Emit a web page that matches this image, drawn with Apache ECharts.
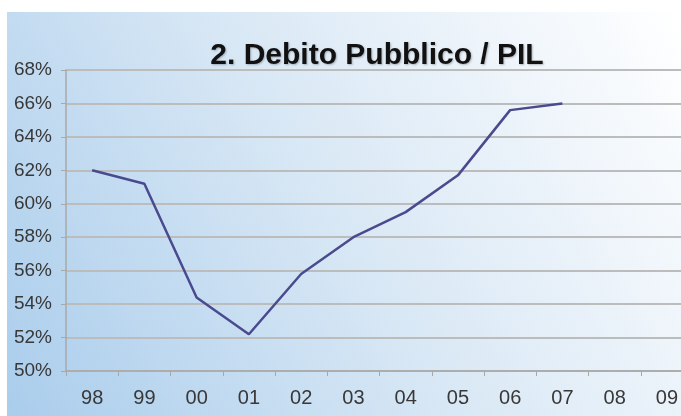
<!DOCTYPE html>
<html>
<head>
<meta charset="utf-8">
<script src="https://cdn.jsdelivr.net/npm/echarts@6/dist/echarts.min.js"></script>
<style>
html,body{margin:0;padding:0;background:#ffffff;}
#c{width:681px;height:416px;}
</style>
</head>
<body>
<div id="c"></div>
<script>
var titleText = '2. Debito Pubblico / PIL';
var categories = ['98','99','00','01','02','03','04','05','06','07','08','09'];
var debtRatio = [62.0, 61.2, 54.4, 52.2, 55.8, 58.0, 59.5, 61.7, 65.6, 66.0, null, null];
var yMin = 50, yMax = 68, yStep = 2;

var chart = echarts.init(document.getElementById('c'));
chart.setOption({
  animation: false,
  backgroundColor: '#ffffff',
  graphic: [{
    type: 'rect', left: 7, top: 12, z: -100, silent: true,
    shape: { width: 674, height: 404 },
    style: {
      fill: new echarts.graphic.LinearGradient(0, 1, 1, 0, [
        { offset: 0, color: '#aacdec' },
        { offset: 0.5, color: '#d9e8f5' },
        { offset: 1, color: '#ffffff' }
      ])
    }
  }],
  title: {
    text: titleText,
    left: 372, top: 36, textAlign: 'center',
    textStyle: {
      fontFamily: 'Liberation Sans, Arial, sans-serif',
      fontSize: 30, fontWeight: 'bold', color: '#111111',
      textShadowColor: 'rgba(0,0,0,0.25)', textShadowBlur: 2, textShadowOffsetX: 1, textShadowOffsetY: 1
    }
  },
  grid: { left: 66, width: 627, top: 70, bottom: 45, outerBoundsMode: 'none', containLabel: false },
  xAxis: {
    type: 'category', data: categories, boundaryGap: true,
    axisLine: { show: true, lineStyle: { color: '#a8a8a8', width: 1.5 } },
    axisTick: { show: true, length: 5, lineStyle: { color: '#a8a8a8' } },
    axisLabel: {
      margin: 17, color: '#383838', fontSize: 20,
      fontFamily: 'Liberation Sans, Arial, sans-serif'
    },
    splitLine: { show: false }
  },
  yAxis: {
    type: 'value', min: yMin, max: yMax, interval: yStep,
    axisLine: { show: true, lineStyle: { color: '#a8a8a8', width: 1.5 } },
    axisTick: { show: true, length: 5, lineStyle: { color: '#a8a8a8' } },
    axisLabel: {
      margin: 14, color: '#383838', fontSize: 19,
      fontFamily: 'Liberation Sans, Arial, sans-serif',
      formatter: '{value}%'
    },
    splitLine: { show: true, lineStyle: { color: '#bcbcbc', width: 2 } }
  },
  series: [{
    type: 'line', data: debtRatio, showSymbol: false, symbol: 'none',
    connectNulls: false,
    lineStyle: { color: '#4a4a8e', width: 2.5 },
    z: 5
  }]
});
</script>
</body>
</html>
